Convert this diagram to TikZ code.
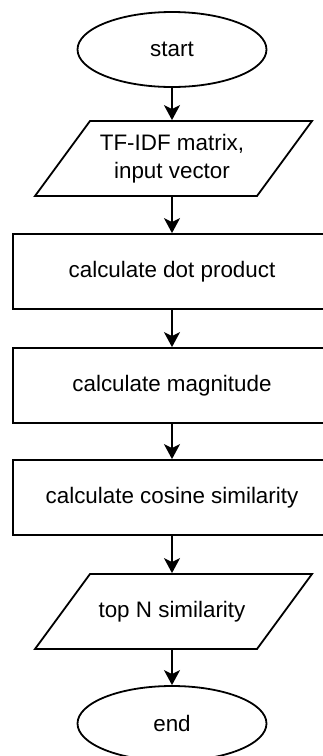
\documentclass[tikz,border=0pt]{standalone}
\usepackage{fontspec}
\setmainfont{Liberation Sans}
\usetikzlibrary{arrows.meta,shapes.geometric}
\begin{document}
\begin{tikzpicture}[x=1pt,y=-1pt,line width=1.8pt,
  every node/.style={font=\fontsize{22.4}{28}\selectfont, inner sep=0pt},
  term/.style={ellipse, draw, minimum width=189pt, minimum height=75pt},
  proc/.style={rectangle, draw, minimum width=318pt, minimum height=75pt},
  io/.style={minimum height=75pt, align=center},
  flow/.style={-{Stealth[length=15pt,width=16pt,inset=4pt]}}
]
\useasboundingbox (0,0) rectangle (323,756);
\clip (0,0) rectangle (323,756);

\node[term] (s) at (172,49.5) {start};
\node[io] (p1) at (172,158.5) {TF-IDF matrix,\\input vector};
\draw (90,121) -- (312,121) -- (257,196) -- (35,196) -- cycle;
\node[proc] (r1) at (172,271.5) {calculate dot product};
\node[proc] (r2) at (172,385.5) {calculate magnitude};
\node[proc] (r3) at (172,497.5) {calculate cosine similarity};
\node[io] (p2) at (172,611.5) {top N similarity};
\draw (90,574) -- (312,574) -- (257,649) -- (35,649) -- cycle;
\node[term] (e) at (172,723.5) {end};

\draw[flow] (s) -- (p1);
\draw[flow] (p1) -- (r1);
\draw[flow] (r1) -- (r2);
\draw[flow] (r2) -- (r3);
\draw[flow] (r3) -- (p2);
\draw[flow] (p2) -- (e);
\end{tikzpicture}
\end{document}
